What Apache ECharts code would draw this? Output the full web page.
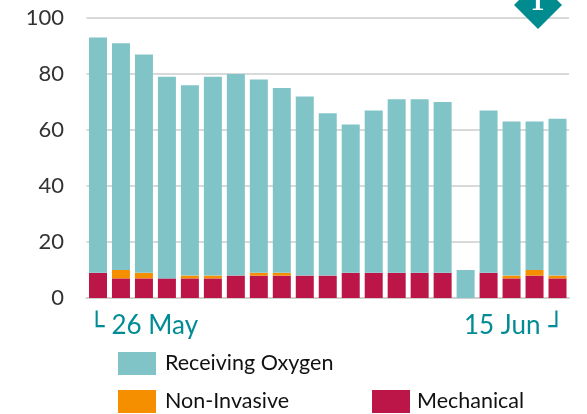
<!DOCTYPE html>
<html><head><meta charset="utf-8">
<style>html,body{margin:0;padding:0;background:#fff}#c{width:587px;height:414px}</style>
<script src="https://cdn.jsdelivr.net/npm/echarts@6/dist/echarts.min.js"></script></head>
<body><div id="c"></div>
<script>
const categories=['26 May','27 May','28 May','29 May','30 May','31 May','1 Jun','2 Jun','3 Jun','4 Jun','5 Jun','6 Jun','7 Jun','8 Jun','9 Jun','10 Jun','11 Jun','12 Jun','13 Jun','14 Jun','15 Jun'];
const mechanical=[9,7,7,7,7,7,8,8,8,8,8,9,9,9,9,9,0,9,7,8,7];
const nonInvasive=[0,3,2,0,1,1,0,1,1,0,0,0,0,0,0,0,0,0,1,2,1];
const receivingOxygen=[84,81,78,72,68,71,72,69,66,64,58,53,58,62,62,61,10,58,55,53,56];
const yTicks=[0,20,40,60,80,100];
const chart=echarts.init(document.getElementById('c'),null,{renderer:'canvas'});
const font='Lato, Carlito, sans-serif';
const ser=(name,data,color)=>({name,type:'bar',stack:'a',data,barWidth:18,itemStyle:{color},emphasis:{disabled:true},animation:false});
const leg=(name,left,top,pad,padTop)=>({data:[name],left,top,itemWidth:38,itemHeight:23,itemGap:0,padding:0,icon:'rect',selectedMode:false,
  textStyle:{fontFamily:font,fontSize:21.5,color:'#111',padding:[padTop,0,0,pad]},itemStyle:{borderWidth:0}});
chart.setOption({
  animation:false,
  grid:{left:86.5,right:18,top:18,bottom:116},
  xAxis:{type:'category',data:categories,
    axisLine:{lineStyle:{color:'#d0d0d0',width:2}},axisTick:{show:false},
    axisLabel:{interval:0,margin:13,hideOverlap:false,
      color:'#008b95',fontFamily:font,fontSize:26,
      formatter:(v,i)=>i===0?'{l|└}{b|}'+v:(i===categories.length-1?'{e|'+v+'}{c|}{r|┘}':''),
      rich:{
        l:{fontSize:26,color:'#008b95',fontFamily:'DejaVu Sans Mono',padding:[4,0,0,91]},
        r:{fontSize:26,color:'#008b95',fontFamily:'DejaVu Sans Mono',padding:[4,87,0,0]},
        b:{width:7},
        c:{width:8},
        e:{fontSize:26,color:'#008b95',fontFamily:font}
      }}},
  yAxis:{type:'value',min:0,max:100,interval:20,
    axisLine:{show:false},axisTick:{show:false},
    splitLine:{lineStyle:{color:'#d9d9d9',width:2}},
    axisLabel:{margin:22.5,color:'#333',fontFamily:font,fontSize:22,
      formatter:v=>yTicks.includes(v)?String(v):''}},
  legend:[leg('Receiving Oxygen',118,352,4,10),leg('Non-Invasive',118,390,4,5),leg('Mechanical',372,390,2,5)],
  series:[ser('Mechanical',mechanical,'#bc1548'),ser('Non-Invasive',nonInvasive,'#f58f00'),ser('Receiving Oxygen',receivingOxygen,'#81c4c8')],
  graphic:[
    {type:'polygon',z:50,shape:{points:[[538,-19],[562,5],[538,29],[514,5]]},style:{fill:'#008b8f'}},
    {type:'text',z:51,x:537.5,y:2.5,style:{text:'1',fill:'#fff',fontFamily:'"Liberation Serif",serif',fontWeight:'bold',fontSize:28,align:'center',verticalAlign:'middle'}}
  ]
});
</script></body></html>
